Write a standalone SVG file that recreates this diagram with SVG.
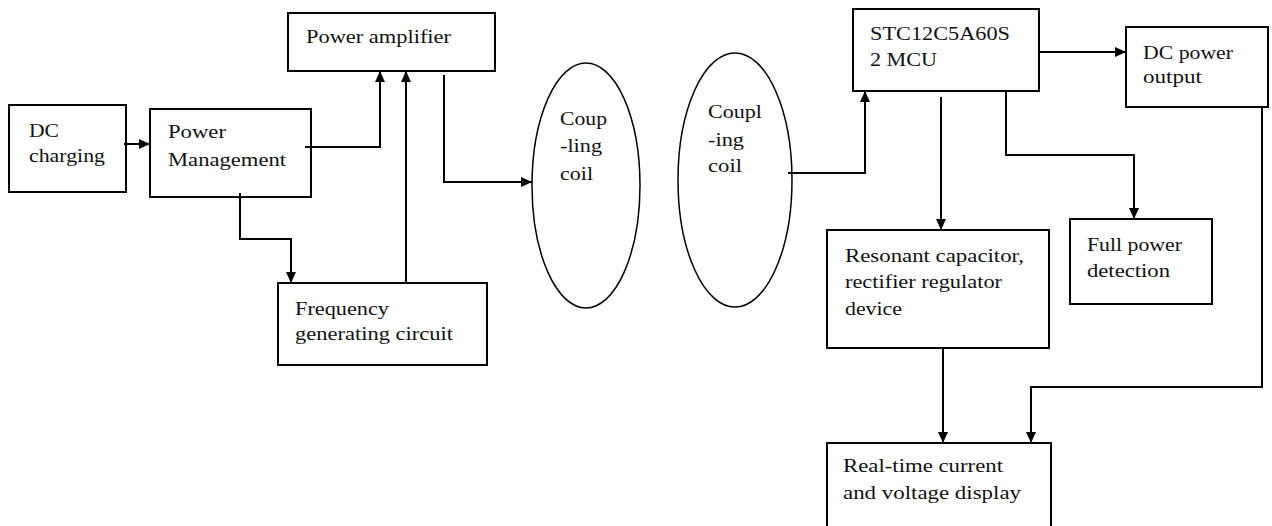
<svg xmlns="http://www.w3.org/2000/svg" width="1272" height="526" viewBox="0 0 1272 526">
<style>
.box{fill:#fff;stroke:#000;stroke-width:2}
.coil{fill:none;stroke:#000;stroke-width:1.5}
.ln{fill:none;stroke:#000;stroke-width:2}
text{font-family:"Liberation Serif","Times New Roman",serif;font-size:18px;fill:#111}
</style>
<defs>
<marker id="ah" markerUnits="userSpaceOnUse" markerWidth="12" markerHeight="10" refX="11" refY="5" orient="auto">
<path d="M0,0 L11,5 L0,10 z" fill="#000"/>
</marker>
</defs>
<rect width="1272" height="526" fill="#fff"/>

<g id="dc-charging">
<rect class="box" x="9" y="105" width="117" height="87"/>
<text x="29" y="137" textLength="30" lengthAdjust="spacingAndGlyphs">DC</text>
<text x="29" y="162" textLength="76" lengthAdjust="spacingAndGlyphs">charging</text>
</g>
<g id="power-management">
<rect class="box" x="150" y="109" width="161" height="88"/>
<text x="168" y="138" textLength="58" lengthAdjust="spacingAndGlyphs">Power</text>
<text x="168" y="166" textLength="118" lengthAdjust="spacingAndGlyphs">Management</text>
</g>
<g id="power-amplifier">
<rect class="box" x="288" y="13" width="207" height="58"/>
<text x="306" y="43" textLength="145" lengthAdjust="spacingAndGlyphs">Power amplifier</text>
</g>
<g id="frequency">
<rect class="box" x="278" y="283" width="209" height="82"/>
<text x="295" y="315" textLength="94" lengthAdjust="spacingAndGlyphs">Frequency</text>
<text x="295" y="340" textLength="158" lengthAdjust="spacingAndGlyphs">generating circuit</text>
</g>
<g id="coil-tx">
<ellipse class="coil" cx="586" cy="185.5" rx="54" ry="122.5"/>
<text x="560" y="125" textLength="47" lengthAdjust="spacingAndGlyphs">Coup</text>
<text x="560" y="152" textLength="42" lengthAdjust="spacingAndGlyphs">-ling</text>
<text x="560" y="180" textLength="33" lengthAdjust="spacingAndGlyphs">coil</text>
</g>
<g id="coil-rx">
<ellipse class="coil" cx="735" cy="180" rx="57" ry="127"/>
<text x="708" y="118" textLength="54" lengthAdjust="spacingAndGlyphs">Coupl</text>
<text x="708" y="146" textLength="36" lengthAdjust="spacingAndGlyphs">-ing</text>
<text x="708" y="172" textLength="34" lengthAdjust="spacingAndGlyphs">coil</text>
</g>
<g id="mcu">
<rect class="box" x="853" y="9" width="186" height="82"/>
<text x="870" y="40" textLength="140" lengthAdjust="spacingAndGlyphs">STC12C5A60S</text>
<text x="870" y="66" textLength="67" lengthAdjust="spacingAndGlyphs">2 MCU</text>
</g>
<g id="dc-output">
<rect class="box" x="1126" y="27" width="142" height="80"/>
<text x="1143" y="59" textLength="90" lengthAdjust="spacingAndGlyphs">DC power</text>
<text x="1143" y="83" textLength="59" lengthAdjust="spacingAndGlyphs">output</text>
</g>
<g id="full-power">
<rect class="box" x="1070" y="219" width="142" height="85"/>
<text x="1087" y="251" textLength="95" lengthAdjust="spacingAndGlyphs">Full power</text>
<text x="1087" y="277" textLength="83" lengthAdjust="spacingAndGlyphs">detection</text>
</g>
<g id="resonant">
<rect class="box" x="827" y="230" width="222" height="118"/>
<text x="845" y="262" textLength="179" lengthAdjust="spacingAndGlyphs">Resonant capacitor,</text>
<text x="845" y="288" textLength="157" lengthAdjust="spacingAndGlyphs">rectifier regulator</text>
<text x="845" y="315" textLength="57" lengthAdjust="spacingAndGlyphs">device</text>
</g>
<g id="display">
<rect class="box" x="827" y="443" width="224" height="90"/>
<text x="843" y="472" textLength="160" lengthAdjust="spacingAndGlyphs">Real-time current</text>
<text x="843" y="499" textLength="178" lengthAdjust="spacingAndGlyphs">and voltage display</text>
</g>

<g id="connectors" class="ln">
<path class="ln" d="M124,144 H150" marker-end="url(#ah)"/>
<path class="ln" d="M305,147 H380 V71" marker-end="url(#ah)"/>
<path class="ln" d="M406,283 V71" marker-end="url(#ah)"/>
<path class="ln" d="M240,193 V239 H291 V283" marker-end="url(#ah)"/>
<path class="ln" d="M444,75 V182 H532" marker-end="url(#ah)"/>
<path class="ln" d="M788,173 H865 V91" marker-end="url(#ah)"/>
<path class="ln" d="M1040,52 H1126" marker-end="url(#ah)"/>
<path class="ln" d="M941,97 V230" marker-end="url(#ah)"/>
<path class="ln" d="M1006,91 V155 H1134 V219" marker-end="url(#ah)"/>
<path class="ln" d="M943,348 V443" marker-end="url(#ah)"/>
<path class="ln" d="M1262,106 V387 H1031 V443" marker-end="url(#ah)"/>
</g>
</svg>
